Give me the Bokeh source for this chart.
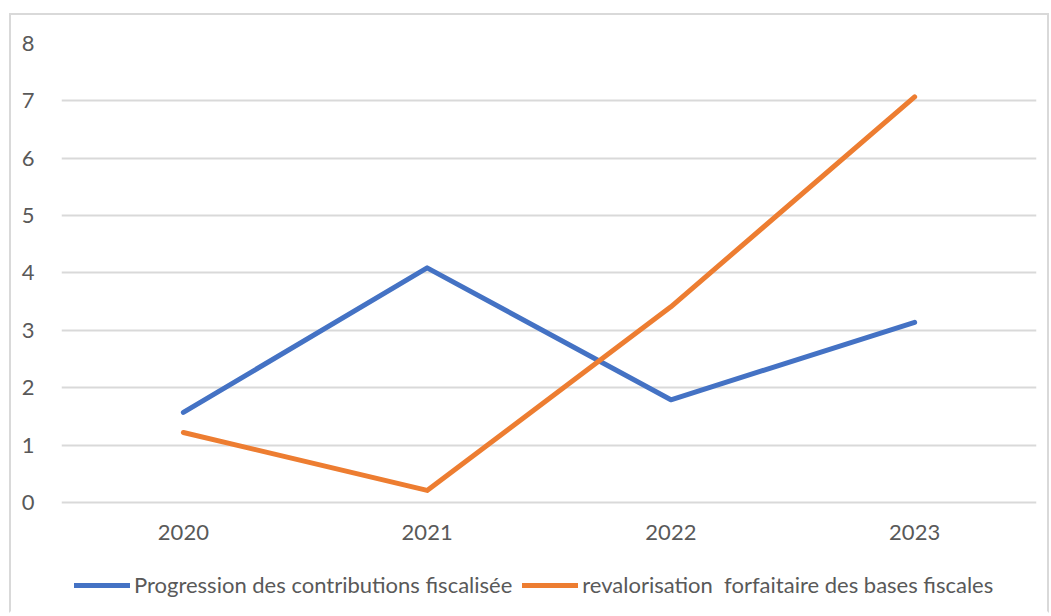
from bokeh.plotting import figure
from bokeh.models import Legend, LegendItem, FactorRange
from bokeh.core.properties import value
from bokeh.embed import file_html
from bokeh.resources import INLINE

years = ["2020", "2021", "2022", "2023"]
progression = [1.57, 4.09, 1.79, 3.14]
revalorisation = [1.22, 0.21, 3.41, 7.07]
y_ticks = [0, 1, 2, 3, 4, 5, 6, 7, 8]
label_prog = "Progression des contributions fiscalisée"
label_reval = "revalorisation  forfaitaire des bases fiscales"

FONT = "Lato"
GREY = "#595959"
YEAR_LABEL_Y = -0.52

p = figure(x_range=FactorRange(*years), y_range=(-1.9, 8),
           frame_width=975, frame_height=568, output_backend="svg", toolbar_location=None,
           min_border_left=50, min_border_top=28, min_border_right=11, min_border_bottom=0)
p.styles = {"border-top": "2px solid #d9d9d9", "border-left": "2px solid #d9d9d9",
            "border-right": "2px solid #d9d9d9", "border-bottom": "2px solid white",
            "margin-left": "9px", "margin-top": "13px"}
p.outline_line_color = None
p.background_fill_color = "white"
p.border_fill_color = "white"

r1 = p.line(years, progression, line_color="#4472C4", line_width=5, line_cap="round", line_join="round")
r2 = p.line(years, revalorisation, line_color="#ED7D31", line_width=5, line_cap="round", line_join="round")

p.text(x=years, y=[YEAR_LABEL_Y] * len(years), text=years,
       text_font=value(FONT), text_font_size="22px", text_color=GREY,
       text_align="center", text_baseline="middle")

p.xaxis.visible = False
p.yaxis.ticker = y_ticks
p.xgrid.grid_line_color = None
p.ygrid.grid_line_color = "#d9d9d9"
p.ygrid.grid_line_width = 2

ax = p.yaxis[0]
ax.axis_line_color = None
ax.major_tick_line_color = None
ax.minor_tick_line_color = None
ax.major_label_text_font = FONT
ax.major_label_text_font_size = "22px"
ax.major_label_text_color = GREY
ax.major_label_standoff = 21

legend = Legend(items=[LegendItem(label=label_prog, renderers=[r1]),
                       LegendItem(label=label_reval, renderers=[r2])],
                orientation="horizontal", location=(13, 13),
                label_text_font=FONT, label_text_font_size="22px", label_text_color=GREY,
                glyph_width=56, label_standoff=4, spacing=10,
                border_line_color=None, background_fill_alpha=0,
                margin=0, padding=0)
p.add_layout(legend, "center")

open("out.html", "w").write(file_html(p, INLINE))
